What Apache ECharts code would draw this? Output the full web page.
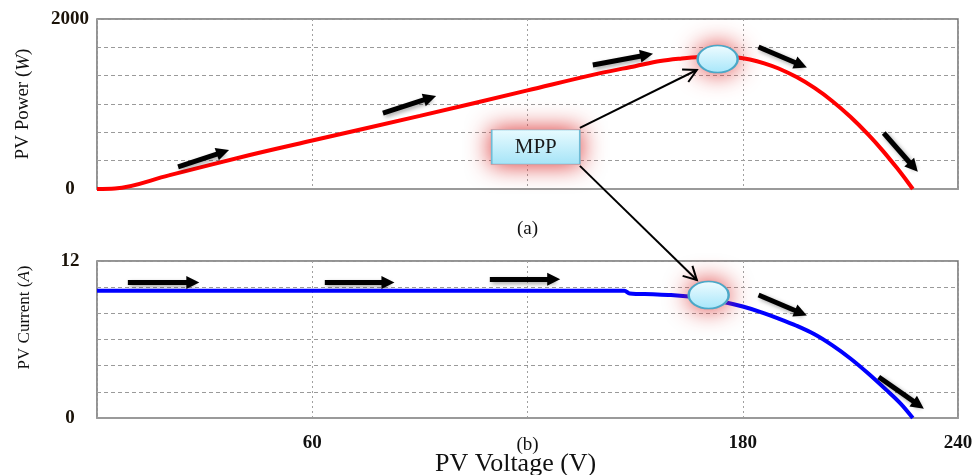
<!DOCTYPE html>
<html><head><meta charset="utf-8">
<script src="https://cdn.jsdelivr.net/npm/echarts@6/dist/echarts.min.js"></script>
<style>html,body{margin:0;padding:0;background:#fff}#c{width:976px;height:475px}</style>
</head><body><div id="c"></div>
<script>
// ---- data ----
const xLabelsShown = [60, 180, 240];
const powerV = [0, 5, 20, 42.6, 60, 90, 120, 140, 150, 157, 163, 168, 174, 178, 182, 186, 190, 195, 200, 205, 210, 215, 219, 223, 225.5, 227.4];
const powerW = [0, 5, 160, 400, 570, 860, 1160, 1360, 1445, 1505, 1535, 1552, 1558, 1549, 1523, 1479, 1418, 1317, 1189, 1033, 850, 640, 452, 246, 109, 0];
const currentV = [0, 147, 148.5, 155, 160, 165, 170, 175, 180, 185, 190, 195, 200, 205, 210, 215, 220, 224, 227.4];
const currentA = [9.73, 9.73, 9.52, 9.46, 9.4, 9.28, 9.1, 8.85, 8.52, 8.1, 7.6, 7.05, 6.4, 5.55, 4.55, 3.4, 2.15, 1.1, 0];
// direction arrows [from, to] in data coordinates
const powerArrows = [[[22.6, 259], [35.1, 435]], [[79.7, 894], [92.8, 1071]], [[138.2, 1459], [153.2, 1576]], [[184.4, 1671], [196.2, 1459]], [[219.3, 659], [227.6, 259]]];
const currentArrows = [[[8.6, 10.35], [26.7, 10.35]], [[63.5, 10.35], [81.1, 10.35]], [[109.5, 10.6], [127.3, 10.6]], [[184.4, 9.4], [196.2, 8.03]], [[217.9, 3.13], [229, 1.0]]];
const mppPower = [173, 1529];
const mppCurrent = [170.5, 9.4];
const mppBox = [122.3, 494];
// connector lines from the MPP box: top one in panel (a) coords, bottom one in panel (b) coords
const mppLinkTop = [[134.6, 718], [167.2, 1400]];
const mppLinkBottom = [[134.6, 19.27], [167.2, 10.55]];

const serif = "'Liberation Serif','Times New Roman',serif";
const zip = (a, b) => a.map((v, i) => [v, b[i]]);

function arrowLines(list) {
  return list.map(a => [{ coord: a[0], symbol: 'none' }, { coord: a[1], symbol: 'triangle', symbolSize: [13, 13] }]);
}
const arrowStyle = { color: '#000', width: 5, type: 'solid', shadowColor: 'rgba(0,0,0,0.35)', shadowBlur: 4, shadowOffsetX: 2, shadowOffsetY: 2 };
const glow = { color: '#e49a9a', shadowColor: 'rgba(220,50,50,1)', shadowBlur: 24 };
const ellipseStyle = {
  color: { type: 'linear', x: 0, y: 0, x2: 0, y2: 1, colorStops: [{ offset: 0, color: '#f0fcff' }, { offset: 1, color: '#a6e6fa' }] },
  borderColor: '#4aa8c8', borderWidth: 2
};
const boxStyle = {
  color: { type: 'linear', x: 0, y: 0, x2: 0, y2: 1, colorStops: [{ offset: 0, color: '#e8fbff' }, { offset: 1, color: '#a6e4f7' }] },
  borderColor: '#6fbcd6', borderWidth: 1
};
function mppMarks(coord) {
  return [
    { coord: coord, symbol: 'circle', symbolSize: [42, 29], itemStyle: glow, label: { show: false } },
    { coord: coord, symbol: 'circle', symbolSize: [40, 27], itemStyle: ellipseStyle, label: { show: false } }
  ];
}

const gridBase = { left: 97, right: 18, show: true, borderColor: '#707070', borderWidth: 1.5, containLabel: false, outerBoundsMode: 'none' };
const splitH = { show: true, lineStyle: { color: '#9a9a9a', type: [4, 3], width: 1 } };
const splitV = { show: true, lineStyle: { color: '#a0a0a0', type: [2, 3], width: 1 } };
const yLabel = { fontFamily: serif, fontWeight: 'bold', fontSize: 19, color: '#1a1208', align: 'center', margin: 27 };

const option = {
  animation: false,
  backgroundColor: '#fff',
  title: { text: 'PV Voltage (V)', left: 435, top: 451, padding: 0,
    textStyle: { fontFamily: serif, fontSize: 26, fontWeight: 'normal', color: '#111' } },
  grid: [Object.assign({ top: 19, height: 170 }, gridBase), Object.assign({ top: 261, height: 157 }, gridBase)],
  xAxis: [
    { gridIndex: 0, type: 'value', min: 0, max: 240, interval: 60,
      axisLabel: { show: false }, axisTick: { show: false },
      axisLine: { show: true, lineStyle: { color: '#9a9a9a', width: 2 } }, splitLine: splitV,
      name: '(a)', nameLocation: 'middle', nameGap: 31, nameMoveOverlap: false,
      nameTextStyle: { fontFamily: serif, fontSize: 19, color: '#111' } },
    { gridIndex: 1, type: 'value', min: 0, max: 240, interval: 60,
      axisLabel: { fontFamily: serif, fontWeight: 'bold', fontSize: 19, color: '#111', margin: 16,
        formatter: v => xLabelsShown.indexOf(v) >= 0 ? String(v) : '' },
      axisTick: { show: false },
      axisLine: { show: true, lineStyle: { color: '#9a9a9a', width: 2 } }, splitLine: splitV,
      name: '(b)', nameLocation: 'middle', nameGap: 18, nameMoveOverlap: false,
      nameTextStyle: { fontFamily: serif, fontSize: 19, color: '#111' } }
  ],
  yAxis: [
    { gridIndex: 0, type: 'value', min: 0, max: 2000, interval: 2000 / 6,
      axisLabel: Object.assign({ formatter: v => (v === 0 || Math.abs(v - 2000) < 1) ? String(Math.round(v)) : '' }, yLabel),
      axisTick: { show: false }, axisLine: { show: false }, splitLine: splitH,
      name: '{n|PV Power (}{i|W}{n|)}', nameLocation: 'middle', nameGap: 64, nameMoveOverlap: false,
      nameTextStyle: { rich: { n: { fontFamily: serif, fontSize: 19, color: '#111' }, i: { fontFamily: serif, fontSize: 19, fontStyle: 'italic', color: '#111' } } } },
    { gridIndex: 1, type: 'value', min: 0, max: 12, interval: 2,
      axisLabel: Object.assign({ formatter: v => (v === 0 || v === 12) ? String(v) : '' }, yLabel),
      axisTick: { show: false }, axisLine: { show: false }, splitLine: splitH,
      name: '{n|PV Current (}{i|A}{n|)}', nameLocation: 'middle', nameGap: 64, nameMoveOverlap: false,
      nameTextStyle: { padding: [0, 0, 0, 44], rich: { n: { fontFamily: serif, fontSize: 17, color: '#111' }, i: { fontFamily: serif, fontSize: 17, fontStyle: 'italic', color: '#111' } } } }
  ],
  series: [
    { type: 'line', xAxisIndex: 0, yAxisIndex: 0, data: zip(powerV, powerW), showSymbol: false, smooth: 0.35,
      silent: true, lineStyle: { color: '#ff0000', width: 4 },
      markLine: { silent: true, symbol: ['none', 'triangle'], label: { show: false }, lineStyle: arrowStyle,
        emphasis: { disabled: true }, data: arrowLines(powerArrows) },
      markPoint: { silent: true, data: mppMarks(mppPower).concat([
        { coord: mppBox, symbol: 'rect', symbolSize: [90, 36], itemStyle: glow, label: { show: false } },
        { coord: mppBox, symbol: 'rect', symbolSize: [88, 34], itemStyle: boxStyle,
          label: { show: true, position: 'inside', formatter: 'MPP', fontFamily: serif, fontSize: 21, color: '#1a1a1a' } }
      ]) } },
    { type: 'line', xAxisIndex: 1, yAxisIndex: 1, data: zip(currentV, currentA), showSymbol: false, smooth: 0.35,
      silent: true, lineStyle: { color: '#0000ff', width: 4 },
      markLine: { silent: true, symbol: ['none', 'triangle'], label: { show: false }, lineStyle: arrowStyle,
        emphasis: { disabled: true }, data: arrowLines(currentArrows) },
      markPoint: { silent: true, data: mppMarks(mppCurrent) } }
  ]
};
const chart = echarts.init(document.getElementById('c'), null, { renderer: 'canvas' });
chart.setOption(option);

// connector lines with open arrow heads, placed through the axes' scales
function connector(link, gridIndex) {
  const p1 = chart.convertToPixel({ gridIndex: gridIndex }, link[0]);
  const p2 = chart.convertToPixel({ gridIndex: gridIndex }, link[1]);
  const dx = p2[0] - p1[0], dy = p2[1] - p1[1], len = Math.hypot(dx, dy);
  const ux = dx / len, uy = dy / len, L = 13, W = 7;
  const a = [p2[0] - ux * L - uy * W, p2[1] - uy * L + ux * W];
  const b = [p2[0] - ux * L + uy * W, p2[1] - uy * L - ux * W];
  const st = { stroke: '#000', lineWidth: 2, fill: null };
  return [
    { type: 'line', shape: { x1: p1[0], y1: p1[1], x2: p2[0], y2: p2[1] }, style: st, z: 20, silent: true },
    { type: 'polyline', shape: { points: [a, p2, b] }, style: Object.assign({ lineJoin: 'miter' }, st), z: 20, silent: true }
  ];
}
chart.setOption({ graphic: connector(mppLinkTop, 0).concat(connector(mppLinkBottom, 1)) });
</script></body></html>
